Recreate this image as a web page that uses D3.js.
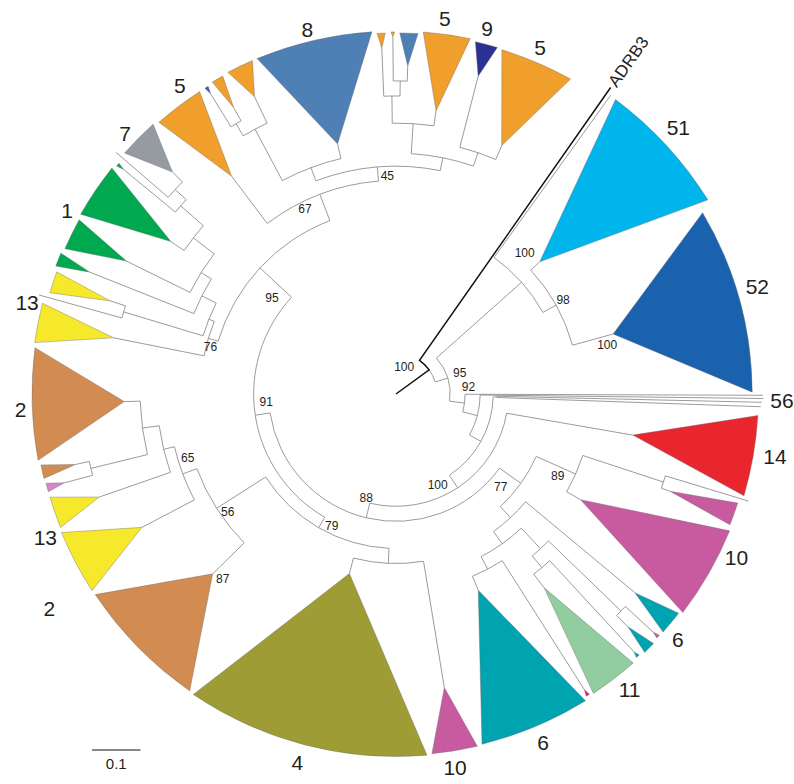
<!DOCTYPE html>
<html>
<head>
<meta charset="utf-8">
<script src="https://cdn.jsdelivr.net/npm/d3@7"></script>
<style>
  body { margin: 0; background: #fff; }
  svg { display: block; }
  text { font-family: "Liberation Sans", Arial, sans-serif; fill: #231f20; }
</style>
</head>
<body>
<div id="chart"></div>
<script>
// --- Configuration ---
const width = 794, height = 784;
const cx = 396, cy = 394;

// internal nodes : id, parent, branch length, bootstrap
const nodes = [
  ["R0", null, 0.0845, 100],
  ["N1", "R0", 0.027, 95],
  ["A", "N1", 0.235, null],
  ["N98", "A", 0.031, 98],
  ["N2", "N1", 0.031, 92],
  ["N3", "N2", 0.031, null],
  ["N4", "N3", 0.027, null],
  ["S56", "N4", 0.008, null],
  ["N5", "N4", 0.031, 100],
  ["N88", "N5", 0.031, 88],
  ["N77", "N88", 0.054, 77],
  ["N89", "N77", 0.089, 89],
  ["P", "N89", 0.175, null],
  ["Q", "N77", 0.031, null],
  ["R", "Q", 0.031, null],
  ["T", "R", 0.058, null],
  ["S", "T", 0.208, null],
  ["U", "T", 0.031, null],
  ["V", "R", 0.029, null],
  ["N91", "N88", 0.031, 91],
  ["N79", "N91", 0.025, 79],
  ["W", "N79", 0.031, null],
  ["N56", "N79", 0.120, 56],
  ["N65", "N56", 0.031, 65],
  ["X1", "N65", 0.023, null],
  ["X2", "X1", 0.035, null],
  ["X3", "X2", 0.120, null],
  ["N95", "N91", 0.089, 95],
  ["N76", "N95", 0.021, 76],
  ["L1", "N76", 0.012, null],
  ["Y", "L1", 0.171, null],
  ["L2", "L1", 0.033, null],
  ["L3", "L2", 0.025, null],
  ["L4", "L3", 0.054, null],
  ["L5", "L4", 0.062, null],
  ["L6", "L5", 0.031, null],
  ["N67", "N95", 0.058, 67],
  ["N45", "N67", 0.029, 45],
  ["M", "N45", 0.029, null],
  ["M2", "M", 0.120, null],
  ["M3", "M2", 0.029, null],
  ["N45b", "N45", 0.027, null],
  ["O", "N45b", 0.062, null],
  ["O2", "O", 0.056, null],
  ["O3", "O2", 0.031, null],
  ["P2", "N45b", 0.029, null]
];

// single sequences : id, parent, branch length, angle (deg)
const leaves = [
  ["ADRB3", "R0", 0.687, -55],
  ["g1", "A", 0.412, -54.3],
  ["s56a", "N2", 0.614, 0.2],
  ["s56b", "N3", 0.584, 0.7],
  ["s56c", "S56", 0.546, 1.3],
  ["s56d", "S56", 0.544, 2.0],
  ["p1", "P", 0.179, 16.9],
  ["y1", "Y", 0.177, 195.5],
  ["l6", "L6", 0.142, 220.8]
];

// collapsed clades : id, parent, stem length, clade depth, start angle, end angle, colour
const clades = [
  ["c51", "N98", 0.025, 0.355, -53.3, -31.9, "lightblue"],
  ["c52", "N98", 0.087, 0.270, -30.6, -0.3, "darkblue"],
  ["c14", "N5", 0.264, 0.252, 3.4, 16.3, "red"],
  ["c10s", "P", 0.019, 0.140, 17.7, 21.4, "pink"],
  ["c10a", "N89", 0.033, 0.305, 22.3, 37.3, "pink"],
  ["c6a", "Q", 0.293, 0.097, 37.8, 41.7, "teal"],
  ["pd", "S", 0.078, 0.014, 42.5, 43.1, "pink"],
  ["c6b", "S", 0.033, 0.062, 44.1, 46.1, "teal"],
  ["tt", "U", 0.256, 0.012, 47.0, 47.6, "teal"],
  ["c11", "U", 0.035, 0.237, 48.6, 56.6, "lightgreen"],
  ["mt", "V", 0.315, 0.014, 57.2, 57.8, "magenta"],
  ["c6c", "V", 0.031, 0.305, 58.3, 76.2, "teal"],
  ["c10b", "W", 0.264, 0.132, 77.0, 84.3, "pink"],
  ["c4", "W", 0.033, 0.365, 85.1, 124.0, "olive"],
  ["c2b", "N56", 0.091, 0.216, 124.8, 146.3, "brown"],
  ["c13a", "N65", 0.122, 0.155, 147.1, 157.5, "yellow"],
  ["c13b", "X1", 0.155, 0.097, 158.3, 163.4, "yellow"],
  ["pk2", "X3", 0.060, 0.037, 164.3, 165.7, "lightpink"],
  ["bsm2", "X3", 0.029, 0.070, 166.5, 168.7, "brown"],
  ["c2a", "X2", 0.033, 0.190, 169.5, 187.3, "brown"],
  ["c13c", "N76", 0.190, 0.159, 188.1, 194.4, "yellow"],
  ["ys", "Y", 0.033, 0.124, 196.3, 199.8, "yellow"],
  ["gs", "L2", 0.231, 0.070, 200.6, 202.8, "green"],
  ["gm", "L3", 0.146, 0.126, 203.7, 208.8, "green"],
  ["c1", "L4", 0.033, 0.188, 209.7, 218.5, "green"],
  ["tg", "L5", 0.138, 0.016, 219.2, 219.8, "green"],
  ["c7", "L6", 0.029, 0.099, 221.6, 228.0, "gray"],
  ["c5a", "N67", 0.122, 0.181, 228.9, 237.0, "orange"],
  ["nt", "M3", 0.080, 0.016, 238.0, 238.6, "navy2"],
  ["ot", "M3", 0.031, 0.068, 239.5, 241.4, "orange"],
  ["os", "M2", 0.060, 0.070, 242.4, 246.7, "orange"],
  ["c8", "M", 0.031, 0.219, 247.5, 266.2, "steel"],
  ["ott", "O2", 0.099, 0.031, 267.0, 268.3, "orange"],
  ["ot2", "O3", 0.091, 0.010, 269.2, 269.8, "orange"],
  ["bsm", "O3", 0.031, 0.068, 270.6, 273.5, "steel"],
  ["c5b", "O", 0.031, 0.159, 274.3, 281.8, "orange"],
  ["c9", "P2", 0.151, 0.068, 282.7, 286.3, "navy"],
  ["c5c", "P2", 0.031, 0.186, 287.1, 299.0, "orange"]
];

// bootstrap values on collapsed clades
const cladeBoot = [["c51", 100], ["c52", 100], ["c2b", 87]];

// group labels : text, angle (deg), distance from root
const groupLabels = [
  ["51", -43.3, 0.800], ["52", -16.5, 0.777], ["56", 0.9, 0.796], ["14", 9.4, 0.792],
  ["10", 25.7, 0.779], ["6", 41.1, 0.771], ["11", 51.7, 0.777], ["6", 67.1, 0.779],
  ["10", 81, 0.779], ["4", 105, 0.786], ["2", 148.3, 0.840], ["13", 157.8, 0.781],
  ["2", 177.6, 0.775], ["13", 194, 0.784], ["1", 209.2, 0.777], ["7", 223.9, 0.775],
  ["5", 235, 0.777], ["8", 256.3, 0.773], ["5", 277.4, 0.781], ["9", 284, 0.777],
  ["5", 292.6, 0.773]
];

const colors = {
  lightblue: "#00b5ec", darkblue: "#1b62ae", red: "#e9262e", pink: "#c85ba0",
  teal: "#00a3b0", lightgreen: "#92cd9f", olive: "#9d9c35", brown: "#d28c52",
  yellow: "#f6e92b", green: "#00a94f", gray: "#959ba0", orange: "#f09f2d",
  steel: "#4e80b6", navy: "#2b3192", magenta: "#d6287f", lightpink: "#d588c4",
  navy2: "#4b57a3"
};

// --- Arbre ---
const rows = [
  ...nodes.map(d => ({ id: d[0], parentId: d[1], len: d[2], boot: d[3], type: "node" })),
  ...leaves.map(d => ({ id: d[0], parentId: d[1], len: d[2], angle: d[3], type: "leaf" })),
  ...clades.map(d => ({ id: d[0], parentId: d[1], len: d[2], depth: d[3], a0: d[4], a1: d[5], color: d[6], type: "clade" }))
];
const root = d3.stratify().id(d => d.id).parentId(d => d.parentId)(rows);
const bootMap = new Map(cladeBoot);

root.eachBefore(n => { n.dist = (n.parent ? n.parent.dist : 0) + n.data.len; });
root.eachAfter(n => {
  if (n.data.type === "leaf") n.angle = n.data.angle;
  else if (n.data.type === "clade") n.angle = (n.data.a0 + n.data.a1) / 2;
  else {
    n.lo = d3.min(n.children, c => c.angle);
    n.hi = d3.max(n.children, c => c.angle);
    n.angle = (n.lo + n.hi) / 2;
  }
});

const r = d3.scaleLinear().domain([0, 0.1]).range([0, 48.5]);
const rad = a => a * Math.PI / 180;
const pt = (rr, a) => [rr * Math.cos(rad(a)), rr * Math.sin(rad(a))];

const svg = d3.select("#chart").append("svg")
  .attr("width", width).attr("height", height);
const g = svg.append("g").attr("transform", `translate(${cx},${cy})`);

const lineCol = "#828282";

// triangles
const triPath = n => {
  const p = d3.path();
  const apex = pt(r(n.dist), n.angle);
  const ro = r(n.dist + n.data.depth);
  const s = pt(ro, n.data.a0);
  p.moveTo(apex[0], apex[1]);
  p.lineTo(s[0], s[1]);
  p.arc(0, 0, ro, rad(n.data.a0), rad(n.data.a1));
  p.closePath();
  return p.toString();
};
g.append("g").selectAll("path")
  .data(root.descendants().filter(n => n.data.type === "clade"))
  .join("path")
  .attr("d", triPath)
  .attr("fill", n => colors[n.data.color])
  .attr("stroke", "#6a6a6a")
  .attr("stroke-width", 0.4);

// arcs
g.append("g").selectAll("path")
  .data(root.descendants().filter(n => n.children))
  .join("path")
  .attr("d", n => {
    const p = d3.path();
    p.arc(0, 0, r(n.dist), rad(n.lo), rad(n.hi));
    return p.toString();
  })
  .attr("fill", "none").attr("stroke", lineCol).attr("stroke-width", 0.8);

// radial branches
const stem = n => {
  const a = pt(n.parent ? r(n.parent.dist) : 0, n.angle);
  const b = pt(r(n.dist), n.angle);
  return `M${a[0]},${a[1]}L${b[0]},${b[1]}`;
};
g.append("g").selectAll("path")
  .data(root.descendants().filter(n => n.data.type !== "leaf" && n !== root))
  .join("path")
  .attr("d", stem)
  .attr("fill", "none").attr("stroke", lineCol).attr("stroke-width", 0.8);

g.append("g").selectAll("path")
  .data(root.descendants().filter(n => n.data.type === "leaf" && n.data.id !== "ADRB3"))
  .join("path")
  .attr("d", stem)
  .attr("fill", "none").attr("stroke", lineCol).attr("stroke-width", 0.8);

// groupe externe (noir)
const adrb = root.descendants().find(n => n.data.id === "ADRB3");
const blk = d3.path();
const r0 = r(root.dist);
blk.moveTo(0, 0);
blk.arc(0, 0, r0, rad(root.angle), rad(adrb.angle), true);
const tip = pt(r(adrb.dist), adrb.angle);
blk.lineTo(tip[0], tip[1]);
g.append("path").attr("d", blk.toString())
  .attr("fill", "none").attr("stroke", "#111").attr("stroke-width", 1.5);

const lab = pt(r(adrb.dist) + 3, adrb.angle);
g.append("text")
  .attr("transform", `translate(${lab[0]},${lab[1]}) rotate(${adrb.angle})`)
  .attr("dominant-baseline", "central")
  .style("font-size", "17px")
  .text("ADRB3");

// bootstrap
const bootOffset = {
  R0: [-25, -3], N1: [12, -5], N2: [4, -16], N98: [7, -5], c51: [-15, -9], c52: [-6, 11],
  N5: [-20, -3], N88: [0, -20], N77: [-20, 4], N89: [-18, 2], N91: [11, -13], N79: [13, -2],
  N56: [11, 4], N65: [5, -16], c2b: [10, 5], N95: [12, 30], N76: [2, 9], N67: [-15, 15],
  N45: [10, 9]
};
const bootNodes = root.descendants()
  .map(n => ({ n, v: n.data.type === "clade" ? bootMap.get(n.data.id) : n.data.boot }))
  .filter(d => d.v != null);
g.append("g").selectAll("text")
  .data(bootNodes)
  .join("text")
  .attr("x", d => pt(r(d.n.dist), d.n.angle)[0] + (bootOffset[d.n.data.id] || [0, 0])[0])
  .attr("y", d => pt(r(d.n.dist), d.n.angle)[1] + (bootOffset[d.n.data.id] || [0, 0])[1])
  .attr("text-anchor", "middle")
  .attr("dominant-baseline", "central")
  .style("font-size", "12px")
  .text(d => d.v);

// étiquettes des groupes
g.append("g").selectAll("text")
  .data(groupLabels)
  .join("text")
  .attr("x", d => pt(r(d[2]), d[1])[0])
  .attr("y", d => pt(r(d[2]), d[1])[1])
  .attr("text-anchor", "middle")
  .attr("dominant-baseline", "central")
  .style("font-size", "21px")
  .text(d => d[0]);

// échelle
const sb = svg.append("g").attr("transform", "translate(92,750)");
sb.append("line").attr("x1", 0).attr("x2", r(0.1))
  .attr("stroke", "#111").attr("stroke-width", 1.2);
sb.append("text").attr("x", r(0.1) / 2).attr("y", 19)
  .attr("text-anchor", "middle").style("font-size", "15px").text("0.1");
</script>
</body>
</html>
